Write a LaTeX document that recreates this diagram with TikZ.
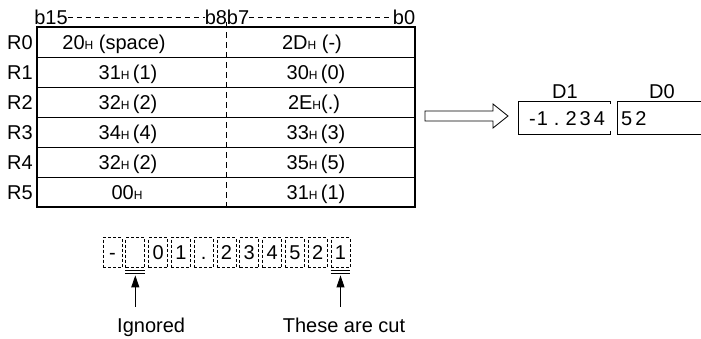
\documentclass[tikz,border=0pt]{standalone}
\usepackage{fontspec}
\setmainfont{Liberation Sans}
\usetikzlibrary{arrows.meta}
\newcommand\hsub{{\fontsize{12}{12}\selectfont H}}
\begin{document}
\begin{tikzpicture}[x=1pt,y=-1pt,
  txt/.style={font=\fontsize{20}{20}\selectfont, inner sep=0pt, text height=14.3pt, text depth=0pt},
  outer/.style={line width=2pt},
  rowline/.style={line width=0.9pt},
  hdash/.style={line width=0.8pt, dash pattern=on 5pt off 4pt},
  vdash/.style={line width=0.8pt, dash pattern=on 6pt off 4pt},
  dbox/.style={draw, line width=0.8pt, dash pattern=on 3pt off 2pt, minimum width=19pt, minimum height=30pt, inner sep=0pt, text height=14.3pt, text depth=0pt, font=\fontsize{20}{20}\selectfont},
  uline/.style={line width=0.9pt},
  uparrow/.style={line width=0.9pt, -{Triangle[length=12pt,width=8pt]}},
  dline/.style={line width=1pt},
]
\useasboundingbox (0,0) rectangle (701,338);

% header
\node[txt] (b15) at (51,17) {b15};
\node[txt] (b87) at (227,17) {b8b7};
\node[txt] (b0) at (404,17) {b0};
\draw[hdash] (b15.east) -- (b87.west);
\draw[hdash] (b87.east) -- (b0.west);

% table
\foreach \y in {57,87,117,147,177} \draw[rowline] (37,\y) -- (415,\y);
\draw[vdash] (226,22) -- (226,207);
\draw[outer] (37,27) rectangle (415,207);

\node[txt, anchor=east] (r0) at (33,42) {R0};
\node[txt, anchor=east] (r1) at (33,72) {R1};
\node[txt, anchor=east] (r2) at (33,102) {R2};
\node[txt, anchor=east] (r3) at (33,132) {R3};
\node[txt, anchor=east] (r4) at (33,162) {R4};
\node[txt, anchor=east] (r5) at (33,192) {R5};

\node[txt] (l0) at (114,42) {20\hsub\ (space)};
\node[txt] (l1) at (128,72) {31\hsub\,(1)};
\node[txt] (l2) at (128,102) {32\hsub\,(2)};
\node[txt] (l3) at (128,132) {34\hsub\,(4)};
\node[txt] (l4) at (128,162) {32\hsub\,(2)};
\node[txt] (l5) at (127,192) {00\hsub};

\node[txt] (c0) at (312,42) {2D\hsub\ (-)};
\node[txt] (c1) at (316,72) {30\hsub\,(0)};
\node[txt] (c2) at (314,102) {2E\hsub(.)};
\node[txt] (c3) at (316,132) {33\hsub\,(3)};
\node[txt] (c4) at (316,162) {35\hsub\,(5)};
\node[txt] (c5) at (316,192) {31\hsub\,(1)};

% hollow arrow
\draw[line width=0.8pt] (425,111) -- (493,111) -- (493,104) -- (508,116) -- (493,128) -- (493,121) -- (425,121) -- cycle;

% D1 / D0
\node[txt] (D1) at (565,91) {D1};
\node[txt] (D0) at (662,91) {D0};
\draw[dline] (610,104) -- (610,101) -- (518,101) -- (518,134) -- (610,134) -- (610,131);
\draw[dline] (701,101) -- (617,101) -- (617,134) -- (701,134);
\node[txt, anchor=west] (v1) at (529,118) {-\hspace{1pt}1\hspace{6pt}.\hspace{6pt}2\hspace{3pt}3\hspace{3pt}4};
\node[txt, anchor=west] (v0) at (621,118) {5\hspace{3pt}2};

% character boxes
\foreach \c [count=\i from 0] in {-,{},0,1,.,2,3,4,5,2,1}
  \node[dbox] (d\i) at (112.5+22.8*\i,252.5) {\c};

% double underlines
\foreach \k in {1,10} {
  \draw[uline] ([yshift=-2.5pt]d\k.south west) -- ([yshift=-2.5pt]d\k.south east);
  \draw[uline] ([yshift=-5.5pt]d\k.south west) -- ([yshift=-5.5pt]d\k.south east);
}

% labels and arrows
\node[txt, anchor=west] (ign) at (117,325) {Ignored};
\node[txt] (cut) at (344,325) {These are cut};
\coordinate (ig) at ([yshift=-39pt]d1.south);
\coordinate (ct) at ([yshift=-39pt]d10.south);
\draw[uparrow] (ig) -- ([yshift=-7.5pt]d1.south);
\draw[uparrow] (ct) -- ([yshift=-7.5pt]d10.south);
\end{tikzpicture}
\end{document}
